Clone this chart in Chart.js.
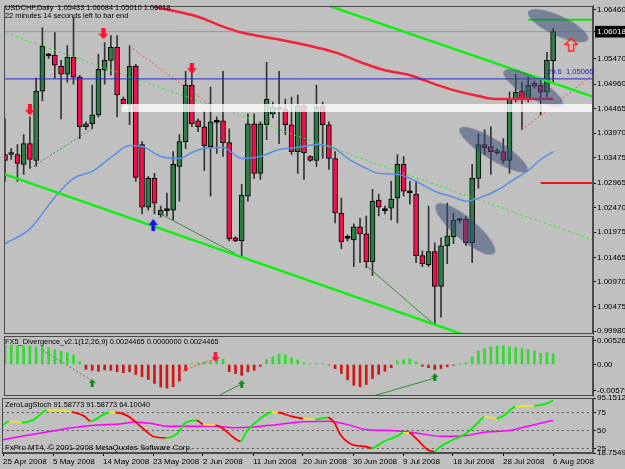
<!DOCTYPE html>
<html><head><meta charset="utf-8">
<script src="https://cdn.jsdelivr.net/npm/chart.js@4.4.1/dist/chart.umd.min.js"></script>
<style>
html,body{margin:0;padding:0;background:#c0c0c0;width:625px;height:469px;overflow:hidden;position:relative;}
canvas{position:absolute;left:0;top:0;}
.t{position:absolute;font-family:"Liberation Sans",Arial,sans-serif;font-size:7.4px;line-height:10px;color:#000;white-space:pre;}
</style></head><body>
<canvas id="cMain" width="625" height="469"></canvas>
<canvas id="cMacd" width="625" height="469"></canvas>
<canvas id="cStoch" width="625" height="469"></canvas>
<div class="t" style="left:5px;top:3px">USDCHF,Daily  1.05433 1.06084 1.05010 1.06018</div>
<div class="t" style="left:5px;top:11px">22 minutes 14 seconds left to bar end</div>
<div class="t" style="left:547px;top:67px;color:#2020d0;font-size:7.6px">29.6  1.05066</div>
<div class="t" style="left:5px;top:337px">FX5_Divergence_v2.1(12,26,9) 0.0024465 0.0000000 0.0024465</div>
<div class="t" style="left:5px;top:400px">ZeroLagStoch 91.58773 91.58773 64.10040</div>
<div class="t" style="left:5px;top:443px;font-size:7.8px">FxPro MT4, © 2001-2008 MetaQuotes Software Corp.</div>
<script>
// ---------- DATA ----------
const dateLabels = ['25 Apr 2008','5 May 2008','14 May 2008','23 May 2008','2 Jun 2008','11 Jun 2008','20 Jun 2008','30 Jun 2008','9 Jul 2008','18 Jul 2008','28 Jul 2008','6 Aug 2008'];
const dateTickIdx = [0,8,16,24,32,40,48,56,64,72,80,88];

const open = [1.0354,1.0358,1.0354,1.0334,1.0376,1.0342,1.0482,1.0553,1.0554,1.0532,
 1.0516,1.0550,1.0510,1.0410,1.0416,1.0434,1.0524,1.0544,1.0570,1.0466,
 1.0454,1.0532,1.0374,1.0248,1.0306,1.0232,1.0241,1.0242,1.0330,1.0380,
 1.0494,1.0422,1.0410,1.0370,1.0419,1.0422,1.0378,1.0186,1.0180,1.0270,
 1.0416,1.0316,1.0414,1.0436,1.0445,1.0446,1.0414,1.0360,1.0452,1.0350,
 1.0342,1.0452,1.0414,1.0346,1.0236,1.0185,1.0182,1.0208,1.0194,1.0138,
 1.0262,1.0241,1.0246,1.0266,1.0334,1.0277,1.0274,1.0150,1.0132,1.0158,
 1.0088,1.0170,1.0188,1.0221,1.0224,1.0176,1.0306,1.0374,1.0370,1.0362,
 1.0360,1.0342,1.0466,1.0482,1.0466,1.0498,1.0494,1.0480,1.05433];
const high = [1.0426,1.0366,1.0374,1.0394,1.0430,1.0508,1.0610,1.0558,1.0600,1.0544,
 1.0574,1.0630,1.0514,1.0420,1.0494,1.0556,1.0580,1.0594,1.0594,1.0470,
 1.0574,1.0536,1.0380,1.0310,1.0316,1.0250,1.0276,1.0360,1.0394,1.0522,
 1.0522,1.0426,1.0440,1.0490,1.0430,1.0522,1.0406,1.0188,1.0294,1.0436,
 1.0436,1.0420,1.0540,1.0460,1.0522,1.0466,1.0470,1.0474,1.0454,1.0352,
 1.0494,1.0460,1.0420,1.0360,1.0266,1.0192,1.0214,1.0226,1.0230,1.0284,
 1.0274,1.0250,1.0300,1.0354,1.0350,1.0300,1.0300,1.0160,1.0250,1.0176,
 1.0186,1.0256,1.0236,1.0226,1.0230,1.0334,1.0396,1.0404,1.0410,1.0366,
 1.0386,1.0480,1.0516,1.0500,1.0510,1.0502,1.0504,1.0560,1.06084];
const low = [1.0300,1.0344,1.0300,1.0314,1.0326,1.0330,1.0462,1.0548,1.0508,1.0426,
 1.0500,1.0496,1.0386,1.0404,1.0406,1.0430,1.0496,1.0514,1.0430,1.0452,
 1.0414,1.0300,1.0234,1.0242,1.0234,1.0228,1.0230,1.0222,1.0260,1.0366,
 1.0410,1.0400,1.0322,1.0270,1.0356,1.0350,1.0180,1.0178,1.0146,1.0260,
 1.0306,1.0304,1.0384,1.0428,1.0376,1.0394,1.0354,1.0316,1.0304,1.0340,
 1.0330,1.0346,1.0324,1.0216,1.0164,1.0180,1.0128,1.0136,1.0126,1.0110,
 1.0230,1.0234,1.0222,1.0216,1.0270,1.0254,1.0136,1.0128,1.0128,1.0010,
 1.0026,1.0134,1.0174,1.0216,1.0170,1.0136,1.0286,1.0354,1.0314,1.0354,
 1.0336,1.0316,1.0460,1.0404,1.0460,1.0488,1.0434,1.0470,1.05010];
const close = [1.0342,1.0354,1.0336,1.0376,1.0344,1.0482,1.0572,1.0554,1.0534,1.0516,
 1.0550,1.0510,1.0410,1.0416,1.0434,1.0526,1.0544,1.0570,1.0474,1.0456,
 1.0532,1.0308,1.0248,1.0306,1.0256,1.0242,1.0242,1.0334,1.0380,1.0494,
 1.0416,1.0410,1.0372,1.0420,1.0420,1.0378,1.0184,1.0180,1.0272,1.0416,
 1.0316,1.0416,1.0466,1.0450,1.0446,1.0414,1.0360,1.0452,1.0358,1.0342,
 1.0450,1.0414,1.0346,1.0236,1.0178,1.0186,1.0208,1.0194,1.0138,1.0260,
 1.0248,1.0242,1.0264,1.0334,1.0280,1.0278,1.0150,1.0134,1.0158,1.0088,
 1.0170,1.0190,1.0222,1.0222,1.0176,1.0306,1.0374,1.0368,1.0360,1.0358,
 1.0342,1.0466,1.0480,1.0466,1.0494,1.0492,1.0480,1.0544,1.06018];

const maBlueIdx = [0,4,8,11,14,17,20,22,25,28,30,32,35,38,41,44,47,50,53,55,58,60,63,66,69,72,74,76,79,81,84,86,88];
const maBlueVal = [1.0174,1.0204,1.0268,1.0306,1.0320,1.0348,1.0372,1.0370,1.0350,1.0346,1.0358,1.0366,1.0368,1.0346,1.0350,1.0364,1.0368,1.0374,1.0366,1.0346,1.0326,1.0316,1.0314,1.0300,1.0280,1.0268,1.0260,1.0266,1.0282,1.0298,1.0322,1.0344,1.0360];
const maRedIdx = [19,23,27,31,35,38,44,50,53,58,61,65,69,72,76,79,84,88];
const maRedVal = [1.0676,1.0656,1.0644,1.0632,1.0612,1.0600,1.0586,1.0570,1.0560,1.0536,1.0524,1.0514,1.0496,1.0484,1.0472,1.0466,1.0466,1.0466];

const priceTicks = [1.06460,1.06018,1.05470,1.04960,1.04465,1.03970,1.03475,1.02965,1.02470,1.01975,1.01465,1.00970,1.00475,0.99980];
const lastPrice = 1.06018;
const fibLevel = 1.05066;
const bandLevels = [1.0456, 1.0440];
const greenShortLevel = 1.0626;
const redShortLevel = 1.02965;

// drawn objects: [barIndex, price] endpoints
const trendUpper = [[52,1.0654],[95,1.0468]];
const trendLower = [[-0.2,1.0315],[74,0.9989]];
const dotGreenLong = [[-0.5,1.0602],[94.5,1.0181]];
const divGreenDot = [[4,1.0326],[14,1.0406]];
const divRedDot1 = [[20,1.0572],[33,1.0454]];
const divRedDot2 = [[83,1.0404],[94.5,1.0516]];
const divSolid1 = [[25,1.0234],[37,1.0154]];
const divSolid2 = [[58,1.0130],[69,1.0010]];
const redDownArrows = [[4,1.0444],[15.8,1.0598],[30,1.0528]];
const blueUpArrows = [[23.8,1.0212]];
const hollowUpArrows = [[90.9,1.0576]];
const ellipses = [[88.8,1.0614],[84.8,1.0488],[78.4,1.0364],[73.9,1.0204]];
const ellipseAxes = [[33,10],[34,10],[40,10],[38,11]];
const ellipseAngles = [25,30,32,40];

const macdHist = [0.0043,0.0043,0.0041,0.0041,0.0041,0.0038,0.0041,0.0037,0.0033,0.0029,
 0.0026,0.0021,0.0007,-0.0011,-0.0013,-0.0015,-0.0012,-0.0013,-0.0016,-0.0018,
 -0.0016,-0.0022,-0.0027,-0.0033,-0.0042,-0.0050,-0.0052,-0.0049,-0.0037,-0.0014,
 0.0002,0.0004,0.0006,0.0008,0.0010,0.0012,-0.0016,-0.0020,-0.0024,-0.0016,
 -0.0013,-0.0004,0.0011,0.0017,0.0023,0.0021,0.0015,0.0010,0.0004,0.0002,
 0.0002,0.0002,-0.0001,-0.0009,-0.0020,-0.0034,-0.0046,-0.0049,-0.0044,-0.0031,
 -0.0022,-0.0015,-0.0007,0.0008,0.0011,0.0013,0.0006,-0.0004,-0.0007,-0.0011,
 -0.0009,-0.0005,-0.0002,0.0002,0.0004,0.0017,0.0030,0.0035,0.0039,0.0041,
 0.0041,0.0039,0.0038,0.0035,0.0033,0.0030,0.0025,0.0026,0.0024465];
const macdTicks = [0.00526, 0, -0.00579];
const macdTickLabels = ['0.005260','0.00','-0.00579'];
const macdGreenDot = [[6,0.0032],[14,-0.0036]];
const macdRedDot = [[28,-0.0017],[34,0.0014]];
const macdSolid1 = [[34.5,-0.0067],[38,-0.0043]];
const macdSolid2 = [[59,-0.0070],[69,-0.0030]];
const macdRedArrows = [[33.8,0.0017]];
const macdGreenArrows = [[14,-0.0041],[38,-0.0043],[69,-0.0028]];

const stochIdx = [0,1,3,5,7,9,11,13,14,17,18,20,22,24,26,28,29,31,32,34,35,37,38,39,41,43,44,46,48,50,52,53,54,56,58,59,61,63,64,65,66,68,69,70,72,74,76,77,79,80,82,85,87,88];
const stochMain = [57.5,62.7,61,65.5,78,78,76,70,63,75,75,70,56,42,39.7,46.7,59.5,64,58.5,57.5,53.8,39.7,35,49,65.5,75,75,70,66.5,65.5,68,61,44,30,27.8,25.5,35,42,46.7,46.7,39.7,23,20.8,27.8,37.3,45.3,61,68.8,67,70,83,84.3,87.7,91.58773];
const sigIdx = [0,3,7,11,15,19,21,24,26,30,34,37,40,44,48,52,55,58,62,66,70,73,77,81,84,88];
const sigVal = [37.3,42,48,53.8,57.5,59.5,61.7,59.5,56,56,56,53.8,54.7,58.5,62.3,63,58.5,51.4,50,46.7,42,42,47.6,50,56,64.1004];
const stochTicks = [95.1512, 75, 50, 25, 18.75493];
const stochTickLabels = ['95.1512','75','50','25','18.75493'];
const stochLevels = [75, 50, 25];

// ---------- HELPERS ----------
const X_MIN = -0.16, X_MAX = 94.4;
const FONT = {family:'"Liberation Sans", Arial, sans-serif', size:8};
const toPts = a => a.map(p => ({x:p[0], y:p[1]}));
function seg(points, color, width, dash, order){
  return {type:'line', data: toPts(points), borderColor:color, borderWidth:width, borderDash:dash||[],
          pointRadius:0, fill:false, order: order==null?2:order, tension:0};
}
function hLine(y, x0, x1, color, width, dash, order){ return seg([[x0,y],[x1,y]], color, width, dash, order); }
function arrowCanvas(w, h, color, dir, hollow){
  const c = document.createElement('canvas'); c.width = w; c.height = h;
  const g = c.getContext('2d');
  const m = hollow ? 1 : 0;
  const W = w - 2*m, H = h - 2*m, sw = W*0.42, hh = H*0.5;
  g.translate(m, m);
  g.beginPath();
  if (dir === 'down'){
    g.moveTo((W-sw)/2,0); g.lineTo((W+sw)/2,0); g.lineTo((W+sw)/2,H-hh); g.lineTo(W,H-hh);
    g.lineTo(W/2,H); g.lineTo(0,H-hh); g.lineTo((W-sw)/2,H-hh);
  } else {
    g.moveTo((W-sw)/2,H); g.lineTo((W+sw)/2,H); g.lineTo((W+sw)/2,hh); g.lineTo(W,hh);
    g.lineTo(W/2,0); g.lineTo(0,hh); g.lineTo((W-sw)/2,hh);
  }
  g.closePath();
  if (hollow){ g.strokeStyle = color; g.lineWidth = 1.4; g.stroke(); }
  else { g.fillStyle = color; g.fill(); }
  return c;
}
function ellipseCanvas(a, b){
  const c = document.createElement('canvas'); c.width = 2*a+2; c.height = 2*b+2;
  const g = c.getContext('2d');
  g.beginPath(); g.ellipse(a+1, b+1, a, b, 0, 0, Math.PI*2);
  g.fillStyle = 'rgba(58,78,120,0.55)'; g.fill();
  return c;
}
function markers(points, style, rotation, order){
  return {type:'line', showLine:false, data: toPts(points), pointStyle: style, pointRotation: rotation||0,
          pointRadius: 4, pointHoverRadius:4, borderWidth:0, order: order==null?0:order};
}
const framePlugin = {id:'frame', afterDraw(chart){
  const {ctx, chartArea:a} = chart; ctx.save(); ctx.strokeStyle = '#4a4a4a'; ctx.lineWidth = 1;
  ctx.strokeRect(Math.round(a.left)+0.5, Math.round(a.top)+0.5, Math.round(a.width)-1, Math.round(a.height)-1);
  ctx.restore(); }};
function yAxis(min, max, ticks, labelFn, extraTicks){
  return Object.assign({type:'linear', position:'right', min, max,
    afterFit: s => { s.width = 32; },
    afterBuildTicks: s => { s.ticks = ticks.map(v => ({value:v})); },
    grid:{display:true, drawOnChartArea:false, drawTicks:true, tickLength:3, color:'#000'},
    border:{display:true, color:'#4a4a4a'},
    ticks:{autoSkip:false, padding:1, font:FONT, color:'#000', callback: labelFn}
  }, extraTicks||{});
}
const hiddenX = () => ({type:'linear', min:X_MIN, max:X_MAX, display:false, offset:false, grid:{offset:false}});
const baseOpts = pad => ({responsive:false, animation:false, events:[],
  plugins:{legend:{display:false}, tooltip:{enabled:false}},
  layout:{padding:pad}});

// ---------- MAIN PRICE CHART ----------
const idx = open.map((_, i) => i);
const green = '#2e7d46', red = '#f0104a';
const bodyColors = idx.map(i => Math.abs(close[i]-open[i]) < 0.00015 ? '#000' : (close[i] > open[i] ? green : red));
const ellStyles = ellipseAxes.map(([a,b]) => ellipseCanvas(a,b));
const redDown = arrowCanvas(10, 11, '#ff1030', 'down');
const blueUp = arrowCanvas(9, 12, '#1414e6', 'up');
const hollowUp = arrowCanvas(14, 15, '#ff2020', 'up', true);
const greenUpSmall = arrowCanvas(7, 8, '#158a15', 'up');
const redDownSmall = arrowCanvas(8, 10, '#ff1030', 'down');

new Chart(document.getElementById('cMain'), {
  type:'line',
  data:{datasets:[
    hLine(lastPrice, -1, 96, '#8c9ab0', 1, [], 6),
    {type:'line', data: toPts([[18.7,bandLevels[0]],[96,bandLevels[0]]]), borderWidth:0, pointRadius:0, fill:false, order:1},
    {type:'line', data: toPts([[18.7,bandLevels[1]],[96,bandLevels[1]]]), borderWidth:0, pointRadius:0, fill:'-1', backgroundColor:'rgba(255,255,255,0.78)', order:1},
    {type:'bar', data: idx.map(i => ({x:i, y:[low[i], high[i]]})), backgroundColor:'#333', barThickness:1, grouped:false, order:5},
    {type:'bar', data: idx.map(i => ({x:i, y:[open[i], close[i]]})), backgroundColor: bodyColors, borderColor:'#000', borderWidth:1, borderSkipped:false, barThickness:5, minBarLength:2, grouped:false, order:4},
    {type:'line', data: maBlueIdx.map((x,k)=>({x, y:maBlueVal[k]})), borderColor:'#5b8ee6', borderWidth:1.5, pointRadius:0, cubicInterpolationMode:'monotone', order:3},
    {type:'line', data: maRedIdx.map((x,k)=>({x, y:maRedVal[k]})), borderColor:'#f5203c', borderWidth:2.5, pointRadius:0, cubicInterpolationMode:'monotone', order:3},
    hLine(fibLevel, -1, 96, '#2a2ac8', 1, [], 2),
    hLine(greenShortLevel, 84, 96, '#10e010', 2, [], 2),
    hLine(redShortLevel, 86, 96, '#f01020', 2, [], 2),
    seg(trendUpper, '#10f010', 2.5),
    seg(trendLower, '#10f010', 2.5),
    seg(dotGreenLong, '#20f020', 1, [2,3]),
    seg(divGreenDot, '#3a9a3a', 1, [2,2]),
    seg(divRedDot1, '#ff5050', 1, [2,2]),
    seg(divRedDot2, '#ff5050', 1, [2,2]),
    seg(divSolid1, '#3c8c3c', 1),
    seg(divSolid2, '#3c8c3c', 1),
    markers(ellipses, ellStyles, ellipseAngles, 1),
    markers(redDownArrows, redDown, 0, 0),
    markers(blueUpArrows, blueUp, 0, 0),
    markers(hollowUpArrows, hollowUp, 0, 0)
  ]},
  options: Object.assign(baseOpts({left:2, right:0, top:3, bottom:135}), {
    scales:{
      x: hiddenX(),
      y: yAxis(0.9992, 1.0654, priceTicks, v => v.toFixed(5), {})
    }
  }),
  plugins:[framePlugin]
});
// current price label with black backdrop
(function(){
  const ch = Chart.getChart('cMain');
  const t = ch.options.scales.y.ticks;
  t.showLabelBackdrop = c => c.tick && Math.abs(c.tick.value - lastPrice) < 1e-9;
  t.backdropColor = '#000';
  t.backdropPadding = {top:1, bottom:1, left:2, right:6};
  t.color = c => (c.tick && Math.abs(c.tick.value - lastPrice) < 1e-9) ? '#fff' : '#000';
  ch.update();
})();

// ---------- MACD ----------
new Chart(document.getElementById('cMacd'), {
  type:'line',
  data:{datasets:[
    {type:'bar', data: macdHist.map((v,i)=>({x:i, y:v})), backgroundColor: macdHist.map(v => v >= 0 ? '#30dc30' : '#d01818'), barThickness:2, grouped:false, order:5},
    seg(macdGreenDot, '#3a9a3a', 1, [2,2]),
    seg(macdRedDot, '#ff4040', 1, [2,2]),
    seg(macdSolid1, '#3c8c3c', 1),
    seg(macdSolid2, '#3c8c3c', 1),
    markers(macdRedArrows, redDownSmall, 0, 0),
    markers(macdGreenArrows, greenUpSmall, 0, 0)
  ]},
  options: Object.assign(baseOpts({left:2, right:0, top:336, bottom:73}), {
    scales:{
      x: hiddenX(),
      y: yAxis(-0.00696, 0.0063, macdTicks, (v,i) => macdTickLabels[i])
    }
  }),
  plugins:[framePlugin]
});

// ---------- STOCHASTIC ----------
new Chart(document.getElementById('cStoch'), {
  type:'line',
  data:{datasets:[
    ...stochLevels.map(l => hLine(l, -1, 96, '#555', 1, [2,3], 6)),
    {type:'line', data: sigIdx.map((x,k)=>({x, y:sigVal[k]})), borderColor:'#ff00ff', borderWidth:1.5, pointRadius:0, cubicInterpolationMode:'monotone', order:3},
    {type:'line', data: stochIdx.map((x,k)=>({x, y:stochMain[k]})), borderWidth:1.8, pointRadius:0, cubicInterpolationMode:'monotone', order:2,
      borderColor:'#00ff00',
      segment:{borderColor: c => { const d = c.p1.parsed.y - c.p0.parsed.y; return d > 2 ? '#00f000' : (d < -2 ? '#ff0000' : '#e8e830'); }}}
  ]},
  options: Object.assign(baseOpts({left:2, right:0, top:398, bottom:0}), {
    scales:{
      x:{type:'linear', position:'bottom', min:X_MIN, max:X_MAX, offset:false,
         afterFit: s => { s.height = 16; },
         afterBuildTicks: s => { s.ticks = dateTickIdx.map(v => ({value:v})); },
         grid:{display:true, drawOnChartArea:false, drawTicks:true, tickLength:3, color:'#000', offset:false},
         border:{display:true, color:'#4a4a4a'},
         ticks:{autoSkip:false, maxRotation:0, align:'start', padding:1, font:FONT, color:'#000',
                callback:(v,i) => dateLabels[i]}},
      y: yAxis(18.75493, 95.1512, stochTicks, (v,i) => stochTickLabels[i])
    }
  }),
  plugins:[framePlugin]
});
</script>
</body></html>
